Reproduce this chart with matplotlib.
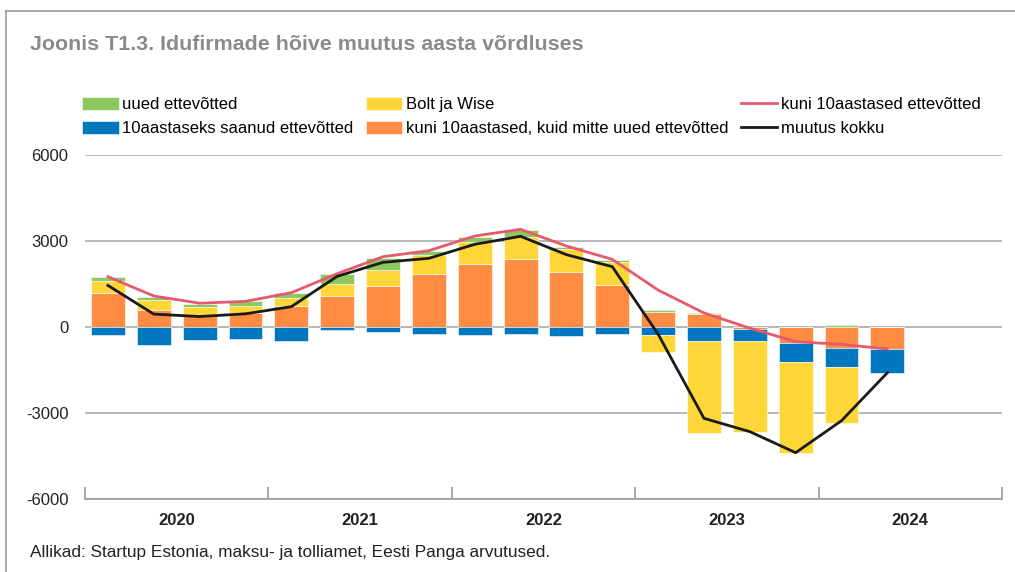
import numpy as np
import matplotlib
matplotlib.use("Agg")
import matplotlib.pyplot as plt
from matplotlib.lines import Line2D

plt.rcParams['font.family'] = ['Liberation Sans', 'DejaVu Sans']

# quarterly data, 2020 Q1 .. 2024 Q2
years = ['2020', '2021', '2022', '2023', '2024']
uued = [150, 115, 128, 162, 180, 361, 430, 140, 174, 243, 93, 58, 70, 35, 0, 15, 81, 0]
saanud = [-291, -616, -465, -430, -500, -93, -163, -244, -279, -244, -314, -233,
          -267, -488, -418, -639, -686, -815]
bolt_wise = [409, 337, 296, 233, 256, 407, 558, 640, 767, 768, 791, 826,
             -593, -3198, -3175, -3175, -1953, 0]
mitte_uued = [1197, 605, 390, 495, 744, 1081, 1430, 1860, 2209, 2372, 1918, 1453,
              512, 465, -70, -570, -721, -779]
kuni10 = [1755, 1081, 830, 895, 1197, 1860, 2453, 2662, 3174, 3407, 2825, 2360,
          1290, 490, -40, -512, -605, -767]
kokku = [1450, 450, 365, 460, 709, 1767, 2256, 2396, 2884, 3163, 2523, 2105,
         -250, -3185, -3651, -4384, -3268, -1594]

GREEN = '#8DC85F'
BLUE = '#0077BE'
YELLOW = '#FFD638'
ORANGE = '#FF8C42'
RED = '#E55A6E'
BLACK = '#1a1a1a'

fig = plt.figure(figsize=(10.15, 5.72), dpi=100)
ax = fig.add_axes([85 / 1015, 1 - 499 / 572, 917 / 1015, 344 / 572])

x = np.arange(len(kokku))
width = 0.74

# stacking order as in the source: orange, blue, yellow, green
series = [(mitte_uued, ORANGE, 'kuni 10aastased, kuid mitte uued ettevõtted'),
          (saanud, BLUE, '10aastaseks saanud ettevõtted'),
          (bolt_wise, YELLOW, 'Bolt ja Wise'),
          (uued, GREEN, 'uued ettevõtted')]
pos_bottom = np.zeros(len(x))
neg_bottom = np.zeros(len(x))
handles = {}
for vals, col, lab in series:
    v = np.array(vals, dtype=float)
    bottom = np.where(v >= 0, pos_bottom, neg_bottom)
    b = ax.bar(x, v, width, bottom=bottom, color=col, edgecolor='white',
               linewidth=0.4, label=lab, zorder=2)
    handles[lab] = b
    pos_bottom += np.where(v > 0, v, 0)
    neg_bottom += np.where(v < 0, v, 0)

l1, = ax.plot(x, kuni10, color=RED, lw=2.0, zorder=3, label='kuni 10aastased ettevõtted')
l2, = ax.plot(x, kokku, color=BLACK, lw=2.0, zorder=4, label='muutus kokku')

ax.set_xlim(-0.5, 19.5)
ax.set_ylim(-6000, 6000)
ax.set_yticks([-6000, -3000, 0, 3000, 6000])
ax.set_yticklabels(['-6000', '-3000', '0', '3000', '6000'])
ax.tick_params(axis='y', length=0, pad=12, labelsize=12, labelcolor='#222222')
ax.yaxis.grid(True, color='#aaaaaa', lw=1.2)
ax.set_axisbelow(True)
for s in ['top', 'right', 'left']:
    ax.spines[s].set_visible(False)
ax.spines['bottom'].set_color('#999999')
ax.spines['bottom'].set_linewidth(1.2)

ax.set_xticks(np.arange(-0.5, 20, 4))
ax.set_xticklabels([])
ax.tick_params(axis='x', which='major', direction='in', length=9, color='#999999', width=1.2)
ax.set_xticks(np.arange(1.5, 20, 4), minor=True)
ax.set_xticklabels(years, minor=True, fontweight='bold', fontsize=12, color='#222222')
ax.tick_params(axis='x', which='minor', length=0, pad=10)

order = ['uued ettevõtted', '10aastaseks saanud ettevõtted', 'Bolt ja Wise',
         'kuni 10aastased, kuid mitte uued ettevõtted']
leg_handles = [handles[k] for k in order] + [l1, l2]
leg_labels = order + ['kuni 10aastased ettevõtted', 'muutus kokku']
fig.legend(leg_handles, leg_labels, ncol=3, loc='upper left',
           bbox_to_anchor=(82 / 1015, 1 - 97 / 572), frameon=False, fontsize=12,
           handlelength=2.2, handleheight=0.85, handletextpad=0.2,
           columnspacing=0.75, labelspacing=0.5, borderaxespad=0, borderpad=0)

fig.text(30 / 1015, 1 - 45 / 572, 'Joonis T1.3. Idufirmade hõive muutus aasta võrdluses',
         fontsize=15.4, fontweight='bold', color='#8a8a8a', va='center', ha='left')
fig.text(30 / 1015, 1 - 552 / 572,
         'Allikad: Startup Estonia, maksu- ja tolliamet, Eesti Panga arvutused.',
         fontsize=12.4, color='#222222', va='center', ha='left')

# frame on top and left
fig.add_artist(Line2D([6 / 1015, 1], [1 - 11 / 572, 1 - 11 / 572], color='#999999', lw=1.2,
                      transform=fig.transFigure))
fig.add_artist(Line2D([6 / 1015, 6 / 1015], [0, 1 - 11 / 572], color='#999999', lw=1.2,
                      transform=fig.transFigure))

fig.savefig('out.png', dpi=100, facecolor='white')
